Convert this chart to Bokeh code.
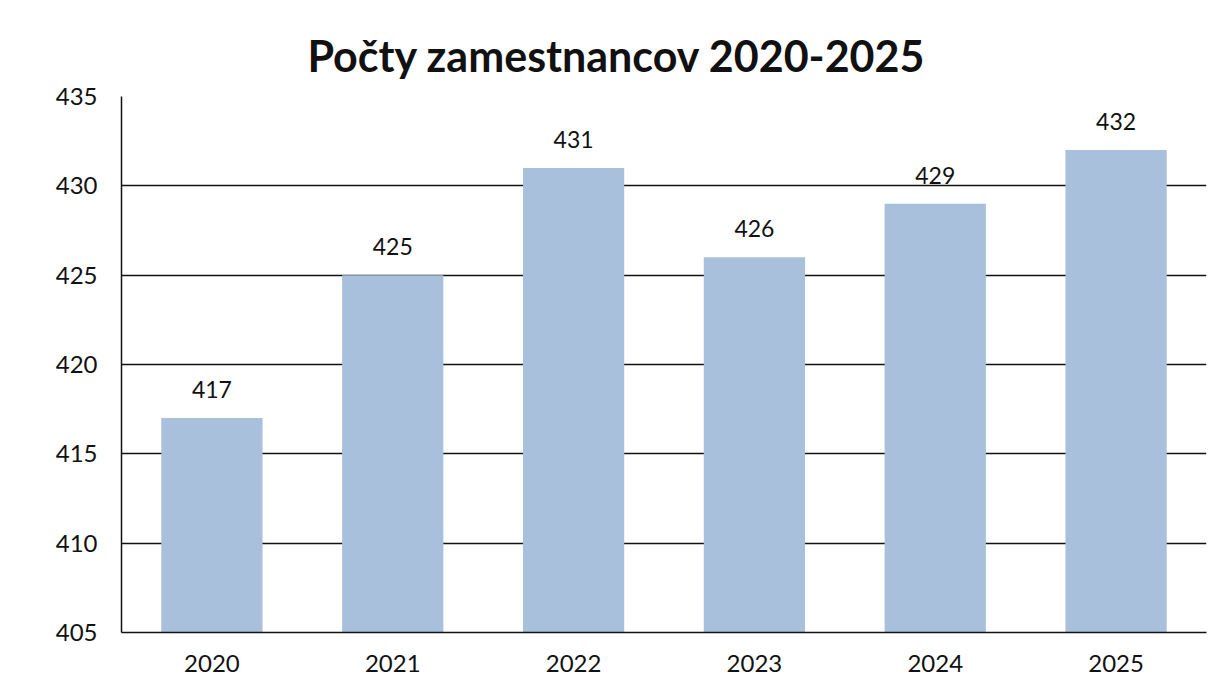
from bokeh.plotting import figure
from bokeh.models import ColumnDataSource, Range1d, FixedTicker, LabelSet
from bokeh.core.properties import value
from bokeh.embed import file_html
from bokeh.resources import INLINE

years = ["2020", "2021", "2022", "2023", "2024", "2025"]
counts = [417, 425, 431, 426, 429, 432]
y_ticks = [405, 410, 415, 420, 425, 430, 435]
title_text = "Počty zamestnancov 2020-2025"

src = ColumnDataSource(dict(x=years, top=counts, lbl=[str(c) for c in counts]))

p = figure(x_range=years, y_range=Range1d(405, 435), width=1208, height=676,
           output_backend="svg", toolbar_location=None, title=title_text,
           min_border_left=121, min_border_right=2, min_border_bottom=44, min_border_top=96)

p.title.align = "left"
p.title.text_font = "Lato"
p.title.text_font_size = "43px"
p.title.text_font_style = "bold"
p.title.text_color = "#111111"
p.title.standoff = 32
p.title.offset = 186

p.vbar(x="x", top="top", bottom=405, width=0.56, source=src,
       fill_color="#a9c0dc", line_color=None)

labels = LabelSet(x="x", y="top", text="lbl", source=src, text_align="center",
                  text_baseline="alphabetic", y_offset=20, text_font_size="23px",
                  text_font=value("Lato"), text_color="#111111")
p.add_layout(labels)

p.yaxis.ticker = FixedTicker(ticks=y_ticks)
p.yaxis.major_tick_line_color = None
p.yaxis.minor_tick_line_color = None
p.yaxis.axis_line_color = "#111111"
p.yaxis.axis_line_width = 1.5
p.yaxis.major_label_text_font = "Lato"
p.yaxis.major_label_text_font_size = "24px"
p.yaxis.major_label_text_color = "#111111"
p.yaxis.major_label_standoff = 18

p.xaxis.major_tick_line_color = None
p.xaxis.axis_line_color = "#111111"
p.xaxis.axis_line_width = 1.5
p.xaxis.major_label_text_font = "Lato"
p.xaxis.major_label_text_font_size = "24px"
p.xaxis.major_label_text_color = "#111111"
p.xaxis.major_label_standoff = 16

p.xgrid.grid_line_color = None
p.ygrid.ticker = FixedTicker(ticks=y_ticks)
p.ygrid.grid_line_color = "#111111"
p.ygrid.grid_line_width = 1.5

p.outline_line_color = None
p.x_range.range_padding = 0.0

open("out.html", "w").write(file_html(p, INLINE))
